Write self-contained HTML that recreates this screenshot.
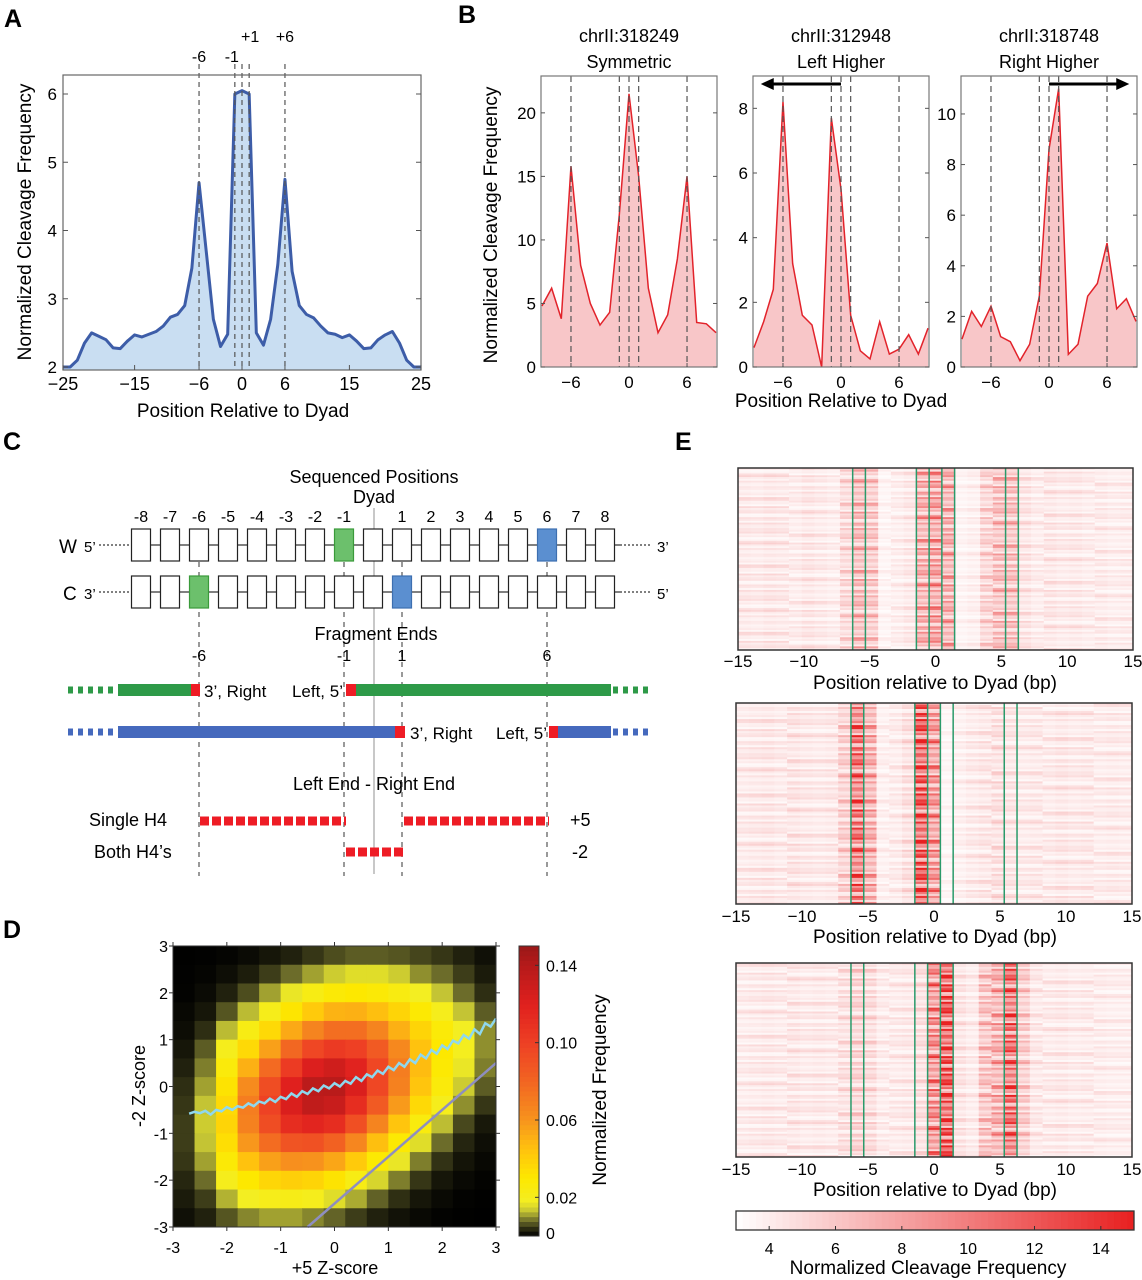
<!DOCTYPE html>
<html><head><meta charset="utf-8">
<style>
html,body{margin:0;padding:0;background:#fff;}
svg{display:block;font-family:"Liberation Sans",Arial,sans-serif;}
</style></head>
<body>
<svg id="fig" width="1142" height="1280" viewBox="0 0 1142 1280" xmlns="http://www.w3.org/2000/svg">
<rect x="0" y="0" width="1142" height="1280" fill="#fff"/>
<text x="4" y="27" font-size="25" font-weight="bold">A</text>
<text x="458" y="23" font-size="25" font-weight="bold">B</text>
<text x="3" y="450" font-size="25" font-weight="bold">C</text>
<text x="3" y="938" font-size="25" font-weight="bold">D</text>
<text x="675" y="450" font-size="25" font-weight="bold">E</text>

<g id="gA"></g>
<g id="gB"></g>
<g id="gC"></g>
<g id="gD"></g>
<g id="gE"></g>
</svg>
<script>
// ---------- DATA ----------
const aPositions = [-25,-24,-23,-22,-21,-20,-19,-18,-17,-16,-15,-14,-13,-12,-11,-10,-9,-8,-7,-6,-5,-4,-3,-2,-1,0,1,2,3,4,5,6,7,8,9,10,11,12,13,14,15,16,17,18,19,20,21,22,23,24,25];
const aValues = [2.0,2.0,2.1,2.35,2.5,2.45,2.4,2.28,2.27,2.38,2.47,2.44,2.48,2.52,2.6,2.73,2.77,2.9,3.45,4.7,3.7,2.7,2.3,2.48,6.0,6.05,6.0,2.5,2.32,2.7,3.5,4.75,3.4,2.9,2.77,2.72,2.6,2.5,2.48,2.43,2.47,2.38,2.27,2.28,2.4,2.47,2.52,2.35,2.1,2.0,2.0];
const aXTicks = [-25,-15,-6,0,6,15,25];
const aYTicks = [2,3,4,5,6];
const aMarks = [-6,-1,0,1,6];
const bPositions = [-9,-8,-7,-6,-5,-4,-3,-2,-1,0,1,2,3,4,5,6,7,8,9];
const bSymmetric = [4.8,6.2,3.8,15.8,8,5,3.3,4.3,12,21.5,15,6.2,2.7,4.1,8.5,15,3.5,3.4,2.7];
const bLeftHigher = [0.6,1.4,2.4,8.2,3.2,1.6,1.3,0,7.7,5.5,1.6,0.5,0.25,1.4,0.4,0.55,1.0,0.4,1.2];
const bRightHigher = [1.1,2.2,1.6,2.4,1.2,1.0,0.25,0.9,2.8,8.6,11,0.5,0.9,2.8,3.3,4.9,2.3,2.7,1.8];
const bTitles1 = ["chrII:318249","chrII:312948","chrII:318748"];
const bTitles2 = ["Symmetric","Left Higher","Right Higher"];
const bYTicks1 = [0,5,10,15,20];
const bYTicks2 = [0,2,4,6,8];
const bYTicks3 = [0,2,4,6,8,10];
const bXTicks = [-6,0,6];
const cLabels = ["-8","-7","-6","-5","-4","-3","-2","-1","","1","2","3","4","5","6","7","8"];
const dHeat = [
[0.01,0.02,0.05,0.1,0.2,0.3,0.45,0.6,0.7,0.7,0.65,0.55,0.45,0.3,0.15],
[0.02,0.05,0.13,0.27,0.5,0.8,1.1,1.4,1.6,1.6,1.4,1.0,0.8,0.5,0.25],
[0.03,0.1,0.3,0.6,1.1,1.7,2.3,2.8,3.0,2.8,2.4,1.8,1.3,0.8,0.4],
[0.07,0.2,0.65,1.25,2.1,3.1,4.2,5.0,5.1,4.6,3.8,2.9,2.0,1.3,0.7],
[0.12,0.4,1.25,2.3,3.6,5.3,6.7,7.6,7.6,6.7,5.1,3.8,2.7,1.8,1.0],
[0.2,0.7,2.0,3.6,5.6,7.9,9.6,10.4,10.0,8.6,6.5,4.5,3.0,1.9,1.0],
[0.3,0.9,2.6,5.1,7.8,10.3,12.2,12.8,11.8,9.6,7.0,4.7,2.9,1.7,0.9],
[0.4,1.1,3.2,6.4,9.3,12,13.7,13.8,12.3,9.6,6.8,4.4,2.6,1.4,0.7],
[0.45,1.3,3.6,7.0,9.9,12.3,13.5,13.1,11.2,8.6,5.8,3.6,2.0,1.0,0.45],
[0.5,1.4,3.8,6.8,9.3,11.2,11.7,11.2,9.2,6.7,4.4,2.5,1.26,0.57,0.22],
[0.5,1.3,3.4,5.9,7.7,8.9,9.1,8.2,6.6,4.6,2.9,1.6,0.8,0.34,0.13],
[0.45,1.1,2.8,4.5,5.6,6.2,6.1,5.4,4.2,2.9,1.7,0.9,0.43,0.18,0.07],
[0.35,0.8,2.0,3.0,3.7,4.0,3.8,3.2,2.3,1.5,0.9,0.45,0.2,0.08,0.03],
[0.25,0.5,1.2,1.8,2.1,2.2,2.0,1.6,1.16,0.73,0.41,0.2,0.09,0.03,0.01],
[0.15,0.3,0.65,0.95,1.1,1.1,0.95,0.74,0.5,0.3,0.17,0.08,0.03,0.01,0]];
const dFitX = [-2.7,-2.6,-2.5,-2.4,-2.3,-2.2,-2.1,-2.0,-1.9,-1.8,-1.7,-1.6,-1.5,-1.4,-1.3,-1.2,-1.1,-1.0,-0.9,-0.8,-0.7,-0.6,-0.5,-0.4,-0.3,-0.2,-0.1,0.0,0.1,0.2,0.3,0.4,0.5,0.6,0.7,0.8,0.9,1.0,1.1,1.2,1.3,1.4,1.5,1.6,1.7,1.8,1.9,2.0,2.1,2.2,2.3,2.4,2.5,2.6,2.7,2.8,2.9,3.0];
const dFitY = [-0.58,-0.54,-0.57,-0.52,-0.6,-0.5,-0.53,-0.44,-0.5,-0.42,-0.45,-0.36,-0.42,-0.32,-0.36,-0.26,-0.33,-0.22,-0.27,-0.15,-0.22,-0.1,-0.16,-0.04,-0.1,0.02,-0.04,0.07,0.0,0.12,0.06,0.2,0.12,0.26,0.2,0.34,0.27,0.42,0.35,0.5,0.42,0.58,0.5,0.68,0.6,0.78,0.7,0.88,0.8,0.98,0.92,1.1,1.02,1.22,1.12,1.35,1.28,1.45];
const dDiagX = [-0.5,3];
const dDiagY = [-3,0.5];
const dTicks = [-3,-2,-1,0,1,2,3];
const dCbTicks = [0,0.02,0.06,0.10,0.14];
const dCbLabels = ["0","0.02","0.06","0.10","0.14"];
const eProfile1 = [4.2,4.1,4.3,4.2,4.0,4.3,4.1,3.9,5.0,6.4,5.8,3.6,3.9,4.2,7.0,7.6,7.0,3.6,3.8,5.2,6.2,6.2,4.4,4.0,4.3,4.1,4.2,4.0,4.1,3.9,4.0];
const eProfile2 = [4.1,4.2,4.3,4.1,4.4,4.2,4.1,4.2,5.4,9.8,7.0,3.8,4.0,4.6,11.2,8.0,3.5,3.8,4.1,4.3,4.6,4.3,4.1,4.2,4.1,4.3,4.1,4.2,4.0,4.1,4.0];
const eProfile3 = [4.0,4.1,4.2,4.1,4.3,4.1,4.2,4.1,4.6,5.2,4.8,4.0,4.1,4.2,4.6,8.5,11.5,4.4,4.0,6.0,7.0,10.0,5.6,4.2,4.1,4.2,4.0,4.1,4.0,3.9,3.9];
const eRowFactor = [1.0,0.4,1.6,0.7,1.2,0.3,1.9,0.9,0.6,1.4,0.5,1.7,0.8,1.1,0.35,1.5,0.7,1.3,1.0,0.45,2.0,0.8,1.2,0.55,1.45,0.9,0.3,1.6,0.75,1.15,0.5,1.8,0.65,1.05,0.4,1.35,0.85];
const eXTicks = [-15,-10,-5,0,5,10,15];
const eCbTicks = [4,6,8,10,12,14];

// ---------- HELPERS ----------
const NS = "http://www.w3.org/2000/svg";
function mk(parent, tag, attrs, txt){
  const el = document.createElementNS(NS, tag);
  for (const k in attrs) el.setAttribute(k, attrs[k]);
  if (txt !== undefined) el.textContent = txt;
  parent.appendChild(el);
  return el;
}
function hex(h){return [parseInt(h.substr(1,2),16),parseInt(h.substr(3,2),16),parseInt(h.substr(5,2),16)];}
function lerpColor(stops, v){
  if (v <= stops[0][0]) return stops[0][1];
  for (let i=1;i<stops.length;i++){
    if (v <= stops[i][0]){
      const t=(v-stops[i-1][0])/(stops[i][0]-stops[i-1][0]);
      const a=hex(stops[i-1][1]), b=hex(stops[i][1]);
      return "rgb("+Math.round(a[0]+(b[0]-a[0])*t)+","+Math.round(a[1]+(b[1]-a[1])*t)+","+Math.round(a[2]+(b[2]-a[2])*t)+")";
    }
  }
  return stops[stops.length-1][1];
}

// ---------- PANEL A ----------
(function(){
  const g = document.getElementById("gA");
  const L=63,R=421,T=75,B=370;
  const xA = v => L + (v+25)*(R-L)/50;
  const yA = v => 367 - (v-2)*68.25;
  let d = "M"+xA(aPositions[0])+","+B;
  aPositions.forEach((p,i)=>{ d += " L"+xA(p)+","+yA(aValues[i]); });
  d += " L"+xA(aPositions[aPositions.length-1])+","+B+" Z";
  let el = mk(g,"path",{d:d,fill:"#c9def2",stroke:"none"});
  
  
  let dl = aPositions.map((p,i)=>(i?"L":"M")+xA(p)+","+yA(aValues[i])).join(" ");
  el = mk(g,"path",{d:dl,fill:"none",stroke:"#3d5da8","stroke-width":3,"stroke-linejoin":"round"});
  
  
  aMarks.forEach(m=>{
    const e = mk(g,"line",{x1:xA(m),x2:xA(m),y1:64,y2:B,stroke:"#555","stroke-width":1.2,"stroke-dasharray":"5,4"});
    
    
  });
  el = mk(g,"rect",{x:L,y:T,width:R-L,height:B-T,fill:"none",stroke:"#666","stroke-width":1.2});
  
  
  aXTicks.forEach(t=>{
    let e = mk(g,"line",{x1:xA(t),x2:xA(t),y1:B,y2:B-5,stroke:"#555"});
    
    
    e = mk(g,"text",{x:xA(t),y:390,"font-size":18,"text-anchor":"middle"}, t<0?"\u2212"+(-t):String(t));
    
    
  });
  aYTicks.forEach(t=>{
    let e = mk(g,"line",{x1:L,x2:L+5,y1:yA(t),y2:yA(t),stroke:"#555"});
    
    
    e = mk(g,"line",{x1:R,x2:R-5,y1:yA(t),y2:yA(t),stroke:"#555"});
    
    
    e = mk(g,"text",{x:57,y:yA(t)+6,"font-size":17,"text-anchor":"end"}, String(t));
    
    
  });
  const labs=[["-6",xA(-6),62],["-1",xA(-1)-3,62],["+1",xA(1)+1,42],["+6",xA(6),42]];
  labs.forEach(l=>{
    const e = mk(g,"text",{x:l[1],y:l[2],"font-size":16,"text-anchor":"middle"}, l[0]);
    
    
  });
  el = mk(g,"text",{x:243,y:417,"font-size":19,"text-anchor":"middle"},"Position Relative to Dyad");
  
  
  el = mk(g,"text",{x:0,y:0,"font-size":19,"text-anchor":"middle",transform:"translate(31,222) rotate(-90)"},"Normalized Cleavage Frequency");
  
  
})();

// ---------- PANEL B ----------
(function(){
  const g = document.getElementById("gB");
  const subs = [
    {L:541,R:717,ymax:22.9,vals:bSymmetric,ticks:bYTicks1,arrow:0},
    {L:753,R:929,ymax:9.0,vals:bLeftHigher,ticks:bYTicks2,arrow:-1},
    {L:961,R:1137,ymax:11.5,vals:bRightHigher,ticks:bYTicks3,arrow:1}];
  const T=76,B=367;
  subs.forEach((s,si)=>{
    const xB = v => s.L + (v+9.1)*(s.R-s.L)/18.2;
    const yB = v => B - v*(B-T)/s.ymax;
    let d="M"+xB(bPositions[0])+","+B;
    bPositions.forEach((p,i)=>{ d+=" L"+xB(p)+","+yB(s.vals[i]); });
    d+=" L"+xB(bPositions[bPositions.length-1])+","+B+" Z";
    let el = mk(g,"path",{d:d,fill:"#f8c6c8"});
    
    
    el = mk(g,"path",{d:bPositions.map((p,i)=>(i?"L":"M")+xB(p)+","+yB(s.vals[i])).join(" "),fill:"none",stroke:"#e2232b","stroke-width":1.5});
    
    
    aMarks.forEach(m=>{
      const e = mk(g,"line",{x1:xB(m),x2:xB(m),y1:T,y2:B,stroke:"#555","stroke-width":1.2,"stroke-dasharray":"6,4"});
      
      
    });
    el = mk(g,"rect",{x:s.L,y:T,width:s.R-s.L,height:B-T,fill:"none",stroke:"#777","stroke-width":1.2});
    
    
    s.ticks.forEach(t=>{
      let e = mk(g,"line",{x1:s.L,x2:s.L+4,y1:yB(t),y2:yB(t),stroke:"#555"});
      
      
      e = mk(g,"line",{x1:s.R,x2:s.R-4,y1:yB(t),y2:yB(t),stroke:"#555"});
      
      
      e = mk(g,"text",{x:s.L-5,y:yB(t)+6,"font-size":17,"text-anchor":"end"},String(t));
      
      
    });
    bXTicks.forEach(t=>{
      let e = mk(g,"line",{x1:xB(t),x2:xB(t),y1:B,y2:B-4,stroke:"#555"});
      
      
      e = mk(g,"text",{x:xB(t),y:388,"font-size":17,"text-anchor":"middle"}, t<0?"\u2212"+(-t):String(t));
      
      
    });
    const cx=(s.L+s.R)/2;
    el = mk(g,"text",{x:cx,y:42,"font-size":18,"text-anchor":"middle"},bTitles1[si]);
    
    
    el = mk(g,"text",{x:cx,y:68,"font-size":18,"text-anchor":"middle"},bTitles2[si]);
    
    
    if (s.arrow!==0){
      const x0=xB(0), x1=xB(8.3*s.arrow), y=84;
      el = mk(g,"line",{x1:x0,x2:x1-s.arrow*6,y1:y,y2:y,stroke:"#000","stroke-width":3});
      
      
      el = mk(g,"path",{d:"M"+x1+","+y+" L"+(x1-s.arrow*13)+","+(y-6)+" L"+(x1-s.arrow*13)+","+(y+6)+" Z",fill:"#000"});
      
      
    }
  });
  let el = mk(g,"text",{x:841,y:407,"font-size":19,"text-anchor":"middle"},"Position Relative to Dyad");
  
  
  el = mk(g,"text",{x:0,y:0,"font-size":19,"text-anchor":"middle",transform:"translate(497,225) rotate(-90)"},"Normalized Cleavage Frequency");
  
  
})();

// ---------- PANEL C ----------
(function(){
  const g = document.getElementById("gC");
  const xc = k => 141 + 29*k;
  const T = (x,y,s,t,anchor,name)=>{ const e=mk(g,"text",{x:x,y:y,"font-size":s,"text-anchor":anchor||"start"},t);   return e; };
  T(374,483,18,"Sequenced Positions","middle","sequenced-positions-title");
  T(374,503,18,"Dyad","middle","dyad-title");
  let el = mk(g,"line",{x1:374,x2:374,y1:508,y2:874,stroke:"#b5b5b5","stroke-width":1.5});
  
  
  [2,7,9,14].forEach(k=>{
    const e = mk(g,"line",{x1:xc(k),x2:xc(k),y1:562,y2:876,stroke:"#999","stroke-width":2,"stroke-dasharray":"5,5"});
    
    
  });
  const rows=[{y:529,lab:"W",l:"5\u2019",r:"3\u2019",fills:{7:"#6cc06c",14:"#5b8fd0"}},{y:576,lab:"C",l:"3\u2019",r:"5\u2019",fills:{2:"#6cc06c",9:"#5b8fd0"}}];
  rows.forEach(r=>{
    const mid=r.y+16;
    el = mk(g,"line",{x1:99,x2:131,y1:mid,y2:mid,stroke:"#000","stroke-dasharray":"2,2"});
    
    
    el = mk(g,"line",{x1:131,x2:620,y1:mid,y2:mid,stroke:"#000"});
    
    
    el = mk(g,"line",{x1:620,x2:652,y1:mid,y2:mid,stroke:"#000","stroke-dasharray":"2,2"});
    
    
    T(r.lab==="W"?59:63,mid+8,19,r.lab,"start","strand-label");
    T(84,mid+7,15,r.l,"start","strand-end-left");
    T(657,mid+7,15,r.r,"start","strand-end-right");
    for(let k=0;k<17;k++){
      const f=r.fills[k]||"#fff";
      const e=mk(g,"rect",{x:xc(k)-9.5,y:r.y,width:19,height:32,fill:f,stroke:f==="#fff"?"#222":(f==="#6cc06c"?"#3a9a3a":"#3d6fb0"),"stroke-width":1.2});
      
      
    }
  });
  cLabels.forEach((l,k)=>{ if(l) T(xc(k),522,16,l,"middle","position-number"); });
  T(376,640,18,"Fragment Ends","middle","fragment-ends-title");
  [["-6",2],["-1",7],["1",9],["6",14]].forEach(p=>T(xc(p[1]),661,16,p[0],"middle","fragment-end-label"));
  function bar(y,color,segs){
    segs.forEach(s=>{
      const e=mk(g,"line",{x1:s[0],x2:s[1],y1:y,y2:y,stroke:s[2]||color,"stroke-width":s[3]?7:12,"stroke-dasharray":s[3]?"5,5":"none"});
      
      
    });
  }
  bar(690,"#2e9a48",[[68,118,null,1],[118,191],[191,200,"#ee1c25"],[346,356,"#ee1c25"],[356,611],[613,648,null,1]]);
  T(204,697,17,"3\u2019, Right","start","fragment-end-text");
  T(343,697,17,"Left, 5\u2019","end","fragment-end-text");
  bar(732,"#4569bd",[[68,118,null,1],[118,395],[395,405,"#ee1c25"],[549,558,"#ee1c25"],[558,611],[613,648,null,1]]);
  T(410,739,17,"3\u2019, Right","start","fragment-end-text");
  T(547,739,17,"Left, 5\u2019","end","fragment-end-text");
  T(374,790,18,"Left End - Right End","middle","difference-title");
  T(89,826,18,"Single H4","start","single-h4-label");
  T(94,858,18,"Both H4\u2019s","start","both-h4-label");
  T(570,826,18,"+5","start","single-h4-value");
  T(572,858,18,"-2","start","both-h4-value");
  [[200,346,821],[404,549,821],[346,403,852]].forEach(s=>{
    const e=mk(g,"line",{x1:s[0],x2:s[1],y1:s[2],y2:s[2],stroke:"#ee1c25","stroke-width":9,"stroke-dasharray":"9,3"});
    
    
  });
})();

// ---------- PANEL D ----------
(function(){
  const g = document.getElementById("gD");
  const L=173,R=496,T=946,B=1227;
  const xD = v => L + (v+3)*(R-L)/6;
  const yD = v => T + (3-v)*(B-T)/6;
  const stops=[[0,'#000000'],[0.35,'#262610'],[0.8,'#6c6c2a'],[1.3,'#c4c434'],[1.8,'#f3ee22'],[3,'#fde800'],[4.5,'#ffc20e'],[6,'#f7941d'],[8,'#f26522'],[10,'#ee4024'],[12,'#e0201e'],[14,'#b51a1a'],[15,'#9a1818']];
  const n=dHeat.length, m=dHeat[0].length;
  dHeat.forEach((row,i)=>{
    row.forEach((v,j)=>{
      const x0=xD(-3+6*j/m), x1=xD(-3+6*(j+1)/m), y0=yD(3-6*i/n), y1=yD(3-6*(i+1)/n);
      const e=mk(g,"rect",{x:x0,y:y0,width:x1-x0+0.5,height:y1-y0+0.5,fill:lerpColor(stops,v)});
      
      
    });
  });
  let el = mk(g,"path",{d:dFitX.map((x,i)=>(i?"L":"M")+xD(x)+","+yD(dFitY[i])).join(" "),fill:"none",stroke:"#8fd8ee","stroke-width":2.5});
  
  
  el = mk(g,"line",{x1:xD(dDiagX[0]),y1:yD(dDiagY[0]),x2:xD(dDiagX[1]),y2:yD(dDiagY[1]),stroke:"#8e8ec0","stroke-width":2.5});
  
  
  el = mk(g,"rect",{x:L,y:T,width:R-L,height:B-T,fill:"none",stroke:"#333","stroke-width":1});
  
  
  dTicks.forEach(t=>{
    let e=mk(g,"line",{x1:xD(t),x2:xD(t),y1:B,y2:B+4,stroke:"#333"});
    
    
    e=mk(g,"line",{x1:xD(t),x2:xD(t),y1:T,y2:T-4,stroke:"#333"});
    
    
    e=mk(g,"text",{x:xD(t),y:1253,"font-size":16,"text-anchor":"middle"},String(t));
    
    
    e=mk(g,"line",{x1:L,x2:L-4,y1:yD(t),y2:yD(t),stroke:"#333"});
    
    
    e=mk(g,"line",{x1:R,x2:R+4,y1:yD(t),y2:yD(t),stroke:"#333"});
    
    
    e=mk(g,"text",{x:168,y:yD(t)+6,"font-size":16,"text-anchor":"end"},String(t));
    
    
  });
  el = mk(g,"text",{x:335,y:1274,"font-size":18,"text-anchor":"middle"},"+5 Z-score");
  
  
  el = mk(g,"text",{x:0,y:0,"font-size":18,"text-anchor":"middle",transform:"translate(145,1086) rotate(-90)"},"-2 Z-score");
  
  
  const cT=946,cB=1236,cL=519,cR=539;
  const cbY = v => cB - v*(cB-cT)/0.15;
  for(let s=0;s<60;s++){
    const v0=0.15*s/60, v1=0.15*(s+1)/60;
    const e=mk(g,"rect",{x:cL,y:cbY(v1),width:cR-cL,height:cbY(v0)-cbY(v1)+0.5,fill:lerpColor(stops,(v0+v1)/2*100)});
    
    
  }
  el = mk(g,"rect",{x:cL,y:cT,width:cR-cL,height:cB-cT,fill:"none",stroke:"#333"});
  
  
  dCbTicks.forEach((t,i)=>{
    let e=mk(g,"line",{x1:cR,x2:cR-4,y1:cbY(t),y2:cbY(t),stroke:"#333"});
    
    
    e=mk(g,"text",{x:546,y:cbY(t)+(t===0?3:6),"font-size":16},dCbLabels[i]);
    
    
  });
  el = mk(g,"text",{x:0,y:0,"font-size":19,"text-anchor":"middle",transform:"translate(606,1090) rotate(-90)"},"Normalized Frequency");
  
  
})();

// ---------- PANEL E ----------
(function(){
  const g = document.getElementById("gE");
  const stops=[[3,'#ffffff'],[15,'#e82020']];
  const maps=[{L:738,R:1133,T:468,B:650,p:eProfile1,ty:667,tt:689},
              {L:736,R:1132,T:703,B:904,p:eProfile2,ty:922,tt:943},
              {L:736,R:1132,T:963,B:1157,p:eProfile3,ty:1175,tt:1196}];
  const nRows=100;
  maps.forEach((mp,mi)=>{
    const cw=(mp.R-mp.L)/31, rh=(mp.B-mp.T)/nRows;
    const xE = v => mp.L + (v+15)*(mp.R-mp.L)/30;
    for(let r=0;r<nRows;r++){
      mp.p.forEach((v,c)=>{
        const f=eRowFactor[(r*5 + Math.floor(c/4)*11 + mi*3)%eRowFactor.length];
        const val=3+(v-3)*f;
        const e=mk(g,"rect",{x:mp.L+c*cw,y:mp.T+r*rh,width:cw+0.4,height:rh+0.3,fill:lerpColor(stops,val)});
        
        
      });
    }
    [9,10,14,15,16,17,21,22].forEach(c=>{
      const e=mk(g,"line",{x1:mp.L+c*cw,x2:mp.L+c*cw,y1:mp.T,y2:mp.B,stroke:"#2a9a6a","stroke-width":1.5});
      
      
    });
    let el=mk(g,"rect",{x:mp.L,y:mp.T,width:mp.R-mp.L,height:mp.B-mp.T,fill:"none",stroke:"#333","stroke-width":1.5});
    
    
    eXTicks.forEach(t=>{
      const e=mk(g,"text",{x:xE(t),y:mp.ty,"font-size":17,"text-anchor":"middle"},t<0?"\u2212"+(-t):String(t));
      
      
    });
    el=mk(g,"text",{x:935,y:mp.tt,"font-size":19,"text-anchor":"middle"},"Position relative to Dyad (bp)");
    
    
  });
  const cL=736,cR=1134,cT=1211,cB=1230;
  const cbX = v => cL + (v-3)*(cR-cL)/12;
  for(let s=0;s<60;s++){
    const v0=3+12*s/60, v1=3+12*(s+1)/60;
    const e=mk(g,"rect",{x:cbX(v0),y:cT,width:cbX(v1)-cbX(v0)+0.5,height:cB-cT,fill:lerpColor(stops,(v0+v1)/2)});
    
    
  }
  let el=mk(g,"rect",{x:cL,y:cT,width:cR-cL,height:cB-cT,fill:"none",stroke:"#333","stroke-width":1.3});
  
  
  eCbTicks.forEach(t=>{
    let e=mk(g,"line",{x1:cbX(t),x2:cbX(t),y1:cB,y2:cB-4,stroke:"#333"});
    
    
    e=mk(g,"text",{x:cbX(t),y:1254,"font-size":16,"text-anchor":"middle"},String(t));
    
    
  });
  el=mk(g,"text",{x:928,y:1274,"font-size":19,"text-anchor":"middle"},"Normalized Cleavage Frequency");
  
  
})();
</script>
</body></html>
